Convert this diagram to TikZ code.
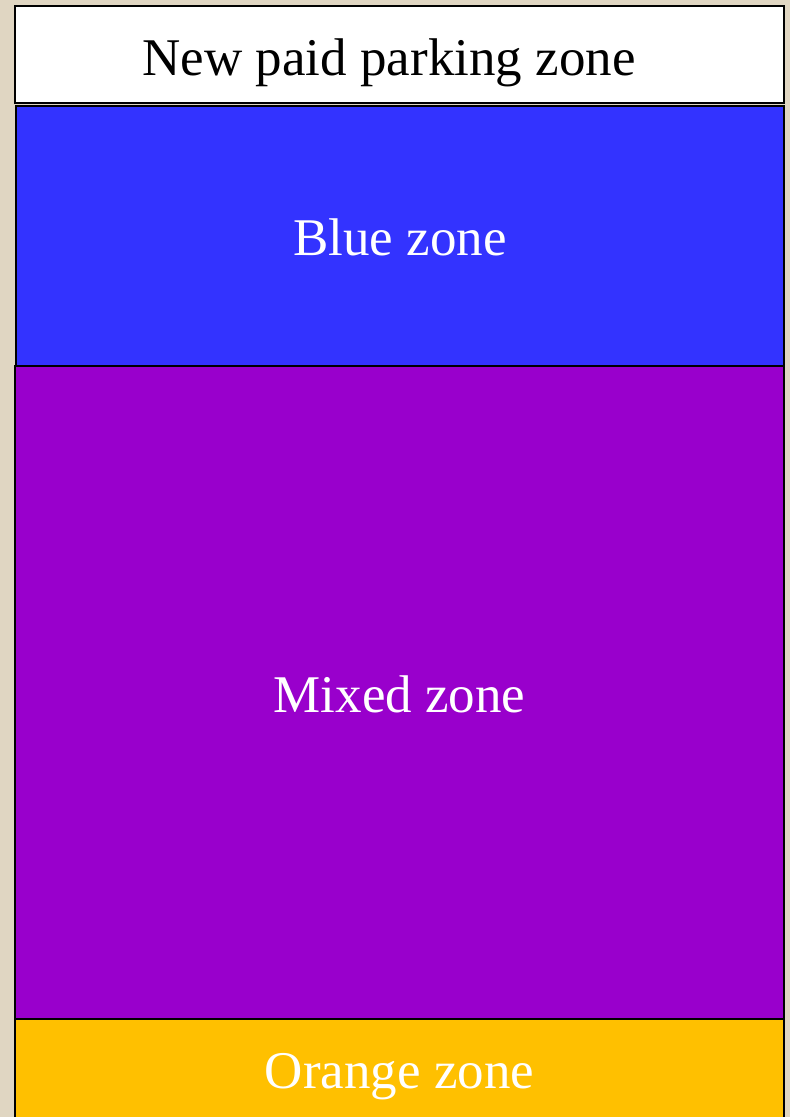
\documentclass[tikz,border=0pt]{standalone}
\usepackage{fontspec}
\setmainfont{Liberation Serif}
\definecolor{parch}{HTML}{E0D6C2}
\definecolor{zblue}{HTML}{3333FF}
\definecolor{zmix}{HTML}{9900CC}
\definecolor{zorange}{HTML}{FFC000}
\tikzset{
  zonebox/.style={draw=black, line width=2pt, inner sep=0pt, outer sep=0pt, anchor=north west},
  zonelabel/.style={anchor=base, inner sep=0pt, font=\fontsize{53}{60}\selectfont},
}
\begin{document}
\begin{tikzpicture}[x=1pt,y=-1pt]
\fill[parch] (0,0) rectangle (790,1117);
\useasboundingbox (0,0) rectangle (790,1117);
\node[zonebox, fill=white, minimum width=769pt, minimum height=97pt] (top) at (15,6) {};
\node[zonebox, fill=zblue, minimum width=768pt, minimum height=260pt] (blue) at (16,105.5) {};
\node[zonebox, fill=zmix, minimum width=769pt, minimum height=653pt] (mixed) at (15,365.5) {};
\node[zonebox, fill=zorange, minimum width=769pt, minimum height=110pt] (orange) at (15,1018.5) {};
\node[zonelabel, text=black] (ttop) at (389,75) {New paid parking zone};
\node[zonelabel, text=white] (tblue) at (400,255) {Blue zone};
\node[zonelabel, text=white] (tmixed) at (399.5,712) {Mixed zone};
\node[zonelabel, text=white] (torange) at (399.5,1088) {Orange zone};
\end{tikzpicture}
\end{document}
